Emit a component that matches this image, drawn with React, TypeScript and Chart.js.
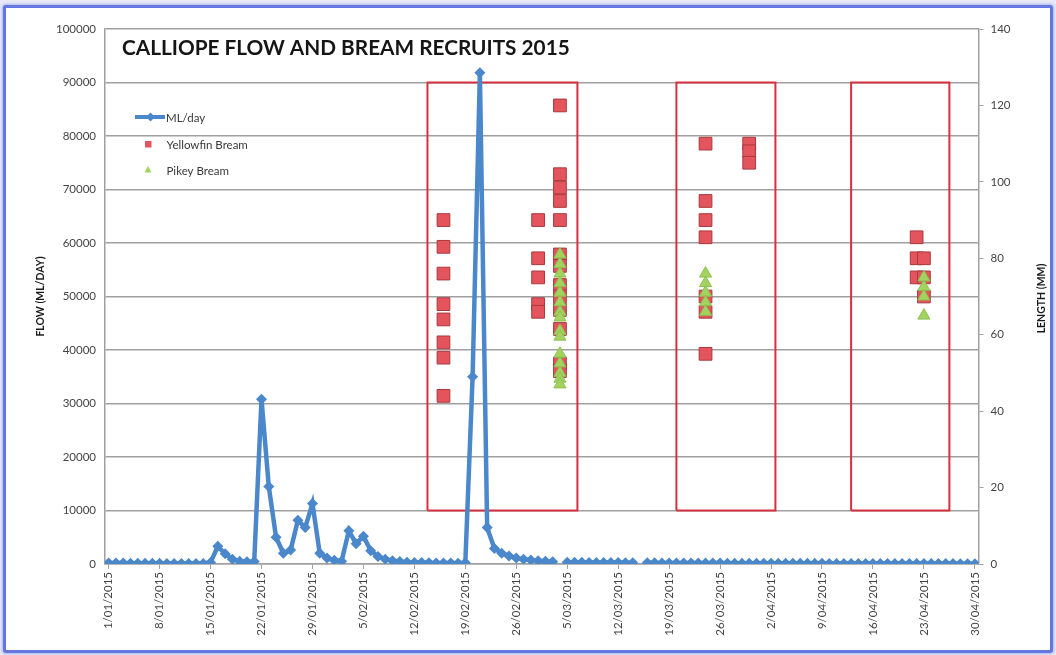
import { useEffect, useRef } from 'react';
import { Chart, registerables } from 'chart.js';

Chart.register(...registerables);

// ---------- text ----------
const chartTitle = 'CALLIOPE FLOW AND BREAM RECRUITS 2015';
const leftAxisTitle = 'FLOW (ML/DAY)';
const rightAxisTitle = 'LENGTH (MM)';
const flowName = 'ML/day';
const yellowfinName = 'Yellowfin Bream';
const pikeyName = 'Pikey Bream';

// ---------- x axis: day index from 1/01/2015 ----------
const xTickDays = [0, 7, 14, 21, 28, 35, 42, 49, 56, 63, 70, 77, 84, 91, 98, 105, 112, 119];
const xTickLabels = [
  '1/01/2015', '8/01/2015', '15/01/2015', '22/01/2015', '29/01/2015', '5/02/2015',
  '12/02/2015', '19/02/2015', '26/02/2015', '5/03/2015', '12/03/2015', '19/03/2015',
  '26/03/2015', '2/04/2015', '9/04/2015', '16/04/2015', '23/04/2015', '30/04/2015',
];

// ---------- daily flow (ML/day), 1/01/2015 .. 30/04/2015 ----------
const flowValues: (number | null)[] = [
  200, 180, 170, 160, 150, 140, 130, 120, 110, 110, 100, 100, 90, 90,
  300, 3300, 1900, 900, 500, 400, 450,
  30800, 14500, 5000, 2000, 2600, 8200, 6800, 11300, 2000, 1100, 700, 500,
  6200, 3800, 5200, 2500, 1400, 900, 600, 450, 350, 300, 260, 230, 200, 180, 170, 160, 250,
  35000, 91800, 6800, 2900, 2000, 1500, 1100, 900, 750, 600, 500, 400,
  null,
  350, 330, 310, 300, 290, 280, 270, 260, 250, 240,
  null,
  230, 220, 210, 200, 200, 190, 190, 180, 180, 170,
  170, 160, 160, 150, 150, 150, 140, 140, 140, 130,
  130, 130, 120, 120, 120, 110, 110, 110, 110, 100,
  100, 100, 100, 90, 90, 90, 90, 90, 80, 80,
  80, 80, 80, 70, 70, 70,
];

// ---------- fish lengths (mm) by sampling day ----------
const yellowfinDays = [
  46, 46, 46, 46, 46, 46, 46, 46,
  59, 59, 59, 59, 59,
  62, 62, 62, 62, 62, 62, 62, 62, 62, 62, 62, 62, 62,
  82, 82, 82, 82, 82, 82, 82,
  88, 88, 88,
  111, 111, 111,
  112, 112, 112,
];
const yellowfinLengths = [
  90, 83, 76, 68, 64, 58, 54, 44,
  90, 80, 75, 68, 66,
  120, 102, 98.5, 95, 90, 81, 78, 73, 70, 66.5, 61.5, 52.5, 50.5,
  110, 95, 90, 85.5, 70, 66, 55,
  110, 108, 105,
  85.5, 80, 75,
  80, 75, 70,
];
const pikeyDays = [
  62, 62, 62, 62, 62, 62, 62, 62, 62, 62, 62, 62, 62, 62, 62,
  82, 82, 82, 82, 82,
  112, 112, 112, 112,
];
const pikeyLengths = [
  81, 78.5, 76, 73.5, 71, 68.5, 66, 64.5, 61, 59.5, 55, 52.5, 50, 48.5, 47,
  76, 73.5, 71, 68.5, 66,
  75, 72.5, 70, 65,
];

// ---------- sampling windows (red boxes) ----------
const boxStartDays = [43.8, 78.0, 102.0];
const boxEndDays = [64.4, 91.6, 115.5];
const boxLowFlow = 10000;
const boxHighFlow = 90000;

// ---------- styles ----------
const FLOW_COLOR = '#4a87cb';
const YF_FILL = '#e4545d';
const YF_BORDER = '#a83a3e';
const PK_FILL = '#a3d35e';
const PK_BORDER = '#8cc052';
const BOX_COLOR = '#d6303f';
const GRID_COLOR = '#a0a0a0';
const TICK_COLOR = '#444444';
const FONT = 'Lato';

const overlayPlugin = {
  id: 'overlay',
  afterDraw(chart: any) {
    const { ctx, chartArea: a } = chart;
    ctx.save();
    // title
    let size = 20;
    ctx.font = `bold ${size}px ${FONT}`;
    const w = ctx.measureText(chartTitle).width;
    size = (size * 448) / w;
    ctx.font = `bold ${size}px ${FONT}`;
    ctx.fillStyle = '#151515';
    ctx.textAlign = 'left';
    ctx.textBaseline = 'middle';
    ctx.fillText(chartTitle, 122, 48);

    // axis titles
    const mid = (a.top + a.bottom) / 2;
    ctx.font = `bold 10.5px ${FONT}`;
    ctx.fillStyle = '#1a1a1a';
    ctx.textAlign = 'center';
    ctx.save();
    ctx.translate(41, mid);
    ctx.rotate(-Math.PI / 2);
    ctx.fillText(leftAxisTitle, 0, 0);
    ctx.restore();
    ctx.save();
    ctx.translate(1042, mid + 2);
    ctx.rotate(-Math.PI / 2);
    ctx.fillText(rightAxisTitle, 0, 0);
    ctx.restore();

    // legend
    ctx.font = `11.5px ${FONT}`;
    ctx.textAlign = 'left';
    // flow
    ctx.strokeStyle = FLOW_COLOR;
    ctx.lineWidth = 4;
    ctx.beginPath();
    ctx.moveTo(135, 117);
    ctx.lineTo(165, 117);
    ctx.stroke();
    ctx.fillStyle = FLOW_COLOR;
    ctx.beginPath();
    ctx.moveTo(150.5 - 4.5, 117);
    ctx.lineTo(150.5, 112.5);
    ctx.lineTo(150.5 + 4.5, 117);
    ctx.lineTo(150.5, 121.5);
    ctx.closePath();
    ctx.fill();
    ctx.fillStyle = '#3a3a3a';
    ctx.fillText(flowName, 166, 118);
    // yellowfin
    ctx.fillStyle = YF_FILL;
    ctx.fillRect(145, 141, 6.5, 6.5);
    ctx.fillStyle = '#3a3a3a';
    ctx.fillText(yellowfinName, 166.5, 145);
    // pikey
    ctx.fillStyle = PK_FILL;
    ctx.beginPath();
    ctx.moveTo(148, 166);
    ctx.lineTo(151.5, 172.5);
    ctx.lineTo(144.5, 172.5);
    ctx.closePath();
    ctx.fill();
    ctx.fillStyle = '#3a3a3a';
    ctx.fillText(pikeyName, 166.5, 171);
    ctx.restore();
  },
};

export default function App() {
  const canvasRef = useRef<HTMLCanvasElement | null>(null);

  useEffect(() => {
    if (!canvasRef.current) return;

    const flowPoints = flowValues.map((v, i) => ({ x: i, y: v }));
    const yellowfinPoints = yellowfinDays.map((d, i) => ({ x: d, y: yellowfinLengths[i] }));
    const pikeyPoints = pikeyDays.map((d, i) => ({ x: d, y: pikeyLengths[i] }));
    const boxDatasets = boxStartDays.map((s, i) => ({
      type: 'line' as const,
      label: 'box' + i,
      data: [
        { x: s, y: boxLowFlow },
        { x: s, y: boxHighFlow },
        { x: boxEndDays[i], y: boxHighFlow },
        { x: boxEndDays[i], y: boxLowFlow },
        { x: s, y: boxLowFlow },
      ],
      yAxisID: 'y',
      borderColor: BOX_COLOR,
      borderWidth: 2,
      borderJoinStyle: 'miter' as const,
      pointRadius: 0,
      fill: false,
      tension: 0,
      order: 4,
    }));

    const tickFont = { family: FONT, size: 11.5 };

    const chart = new Chart(canvasRef.current, {
      type: 'scatter',
      data: {
        datasets: [
          {
            type: 'line',
            label: flowName,
            data: flowPoints as any,
            yAxisID: 'y',
            borderColor: FLOW_COLOR,
            backgroundColor: FLOW_COLOR,
            borderWidth: 4.5,
            pointStyle: 'rectRot',
            pointRadius: 5.5,
            pointBorderWidth: 0,
            pointBackgroundColor: FLOW_COLOR,
            spanGaps: false,
            tension: 0,
            fill: false,
            order: 3,
          },
          {
            type: 'scatter',
            label: yellowfinName,
            data: yellowfinPoints,
            yAxisID: 'y1',
            pointStyle: 'rect',
            pointRadius: 9,
            pointBackgroundColor: YF_FILL,
            pointBorderColor: YF_BORDER,
            pointBorderWidth: 1,
            order: 2,
          },
          {
            type: 'scatter',
            label: pikeyName,
            data: pikeyPoints,
            yAxisID: 'y1',
            pointStyle: 'triangle',
            pointRadius: 7,
            pointBackgroundColor: PK_FILL,
            pointBorderColor: PK_BORDER,
            pointBorderWidth: 1,
            order: 1,
          },
          ...boxDatasets,
        ] as any,
      },
      options: {
        responsive: false,
        animation: false,
        devicePixelRatio: 1,
        layout: { padding: { top: 29, left: 0, right: 0, bottom: 0 } },
        plugins: {
          legend: { display: false },
          tooltip: { enabled: false },
          title: { display: false },
        },
        scales: {
          x: {
            type: 'linear',
            min: -0.5,
            max: 119.5,
            afterBuildTicks: (s: any) => {
              s.ticks = xTickDays.map((v) => ({ value: v }));
            },
            afterFit: (s: any) => {
              s.height = 91;
            },
            ticks: {
              autoSkip: false,
              minRotation: 90,
              maxRotation: 90,
              padding: 3,
              font: tickFont,
              color: TICK_COLOR,
              callback: (v: any) => {
                const k = xTickDays.indexOf(Number(v));
                return k >= 0 ? xTickLabels[k] : '';
              },
            },
            grid: { drawOnChartArea: false, drawTicks: true, tickLength: 5, color: GRID_COLOR, lineWidth: 1 },
            border: { display: true, color: GRID_COLOR, width: 1.5 },
          },
          y: {
            type: 'linear',
            position: 'left',
            min: 0,
            max: 100000,
            afterFit: (s: any) => {
              s.width = 105;
            },
            ticks: {
              stepSize: 10000,
              padding: 9,
              font: tickFont,
              color: TICK_COLOR,
              callback: (v: any) => String(v),
            },
            grid: { color: GRID_COLOR, lineWidth: 1.5, drawTicks: false },
            border: { display: true, color: GRID_COLOR, width: 1.5 },
          },
          y1: {
            type: 'linear',
            position: 'right',
            min: 0,
            max: 140,
            afterFit: (s: any) => {
              s.width = 77.5;
            },
            ticks: { stepSize: 20, padding: 7, font: tickFont, color: TICK_COLOR },
            grid: { drawOnChartArea: false, drawTicks: true, tickLength: 5, color: GRID_COLOR, lineWidth: 1 },
            border: { display: true, color: GRID_COLOR, width: 1.5 },
          },
        },
      },
      plugins: [overlayPlugin],
    });

    return () => {
      chart.destroy();
    };
  }, []);

  return (
    <div
      style={{
        position: 'fixed',
        left: 0,
        top: 0,
        width: 1056,
        height: 655,
        background: '#e8ebf7',
        overflow: 'hidden',
      }}
    >
      <div
        style={{
          position: 'absolute',
          left: 3,
          top: 5,
          width: 1050,
          height: 648,
          boxSizing: 'border-box',
          border: '3px solid #6476e0',
          borderRadius: 3,
          background: '#ffffff',
          boxShadow: '0 0 3px 1px rgba(120,135,230,0.55)',
        }}
      />
      <canvas
        ref={canvasRef}
        width={1056}
        height={655}
        style={{ position: 'absolute', left: 0, top: 0 }}
      />
    </div>
  );
}
